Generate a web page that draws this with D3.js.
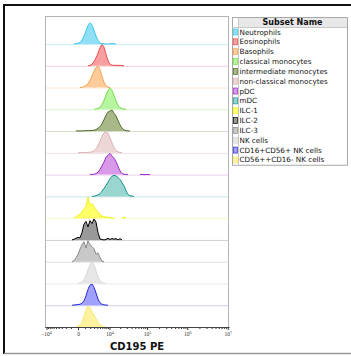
<!DOCTYPE html>
<html>
<head>
<meta charset="utf-8">
<script src="https://cdn.jsdelivr.net/npm/d3@7"></script>
<style>
  body { margin: 0; background: #fff; }
  svg { display: block; }
</style>
</head>
<body>
<svg id="chart" width="351" height="356"></svg>
<script>
// CD195 PE values at which the histogram heights were read
const binValues = [-1150, -810, -510, -240, 0, 240, 510, 810, 1150, 1530,
    1960, 2440, 2970, 3570, 4240, 4990, 5830, 6780, 7840, 9020,
    10350, 11840, 13510, 15380, 17470, 19820, 22440, 25400, 28700, 32400,
    36540, 41180, 46380, 52240, 58760, 66080, 74280, 83460, 93800, 105300, 118200];

const subsetNames = ["Neutrophils", "Eosinophils", "Basophils", "classical monocytes",
    "intermediate monocytes", "non-classical monocytes", "pDC", "mDC",
    "ILC-1", "ILC-2", "ILC-3", "NK cells", "CD16+CD56+ NK cells", "CD56++CD16- NK cells"];

// normalised counts (mode = 1), one value per bin
const neutrophils   = [0,0,0,.01,.03,.08,.2,.38,.62,.88, 1,.9,.65,.38,.17,.06,.02,.01,0,0, .01,.02,.01,0,0,0,0,0,0,0, 0,0,0,0,0,0,0,0,0,0,0];
const eosinophils   = [0,0,0,0,0,0,0,0,0,0, .02,.08,.2,.38,.6,.85,1,.88,.55,.25, .08,.03,.02,.02,.02,.02,.01,0,0,0, 0,0,0,0,0,0,0,0,0,0,0];
const basophils     = [0,0,0,0,0,0,.01,.04,.1,.2, .35,.55,.78,.95,1,.85,.55,.25,.08,.02, 0,0,0,0,0,0,0,0,0,0, 0,0,0,0,0,0,0,0,0,0,0];
const classicalMono = [0,0,0,0,0,0,0,0,0,0, 0,0,0,.01,.04,.1,.22,.42,.68,.9, 1,.9,.66,.4,.2,.08,.03,.01,0,0, 0,0,0,0,0,0,0,0,0,0,0];
const intermedMono  = [0,0,0,0,.01,.01,.01,.01,.02,.02, .02,.03,.04,.07,.13,.22,.35,.55,.75,.9, .95,1,.85,.72,.5,.3,.15,.06,.02,.01, 0,0,0,0,0,0,0,0,0,0,0];
const nonClassMono  = [0,0,0,0,0,.01,.01,.01,.01,.02, .03,.05,.1,.2,.35,.55,.78,.95,1,.92, .72,.48,.26,.12,.05,.02,0,0,0,0, 0,0,0,0,0,0,0,0,0,0,0];
const pDC           = [0,0,0,0,0,0,0,0,0,0, 0,.01,.02,.05,.12,.25,.42,.6,.82,.92, 1,.88,.78,.62,.4,.18,.06,.02,.01,0, 0,0,0,0,0,0,.01,0,0,.01,0];
const mDC           = [0,0,0,0,0,0,0,0,0,0, 0,0,.01,.03,.07,.14,.25,.38,.52,.68, .85,.95,1,.97,.9,.8,.65,.5,.28,.1, .03,.01,0,0,0,0,0,0,0,0,0];
const ilc1          = [0,0,0,.05,.14,.2,.3,.45,.55,1, .62,.7,.55,.4,.3,.15,.1,.08,.05,.03, .02,.01,0,0,0,0,0,.06,0,0, 0,0,0,0,0,0,0,0,0,0,0];
const ilc2          = [0,0,.03,.08,.12,.1,.35,.75,.88,.62, .92,.78,1,.85,.35,.05,.02,0,.02,.08, .02,.07,.03,.07,0,.06,0,0,0,0, 0,0,0,0,0,0,0,0,0,0,0];
const ilc3          = [0,0,.05,.18,.35,.6,.8,.95,.65,1, .8,.72,.62,.35,.42,.2,.02,0,0,0, 0,0,0,0,0,0,0,0,0,0, 0,0,0,0,0,0,0,0,0,0,0];
const nkCells       = [0,0,0,0,0,.02,.06,.18,.38,.65, .9,1,.88,.6,.32,.12,.04,.01,0,0, 0,0,0,0,0,0,0,0,0,0, 0,0,0,0,0,0,0,0,0,0,0];
const nkCD16CD56    = [0,0,.01,.02,.03,.05,.1,.22,.45,.75, .95,1,.85,.58,.3,.12,.05,.02,.01,0, 0,0,0,0,0,0,0,0,0,0, 0,0,0,0,0,0,0,0,0,0,0];
const nkCD56bright  = [0,0,0,0,.03,.1,.25,.5,.8,1, .92,.72,.55,.4,.22,.1,.04,.01,0,0, 0,0,0,0,0,0,0,0,0,0, 0,0,0,0,0,0,0,0,0,0,0];

const histograms = [neutrophils, eosinophils, basophils, classicalMono, intermedMono, nonClassMono,
    pDC, mDC, ilc1, ilc2, ilc3, nkCells, nkCD16CD56, nkCD56bright];
const jagged = ["ILC-1", "ILC-2", "ILC-3"];

const fillColors = ["#8fe0f5", "#f8a0a0", "#ffcc99", "#b8f5a0", "#a8b888", "#ecd6d6", "#d89ae8",
    "#99d6d0", "#ffff66", "#999999", "#c8c8c8", "#e6e6e6", "#a0a0ff", "#fff3a0"];
const lineColors = ["#38c8ec", "#e84848", "#f5a050", "#70e040", "#4e6b28", "#d8b4b4", "#9a28c8",
    "#159090", "#f0f020", "#000000", "#888888", "#d6d6d6", "#2828d8", "#f8e870"];
const baseColors = ["#c8eef8", "#f5d0d5", "#fbe5d5", "#d8f5cc", "#d8dccc", "#efe0e4", "#ecd0f0",
    "#c8e6ea", "#fafac8", "#d0d0d0", "#e0e0e0", "#e8e8e8", "#ccccf0", "#444444"];

const majorTicks = [-1e4, 0, 1e4, 1e5, 1e6, 1e7];
const tickLabels = [["-10", "4"], ["0", ""], ["10", "4"], ["10", "5"], ["10", "6"], ["10", "7"]];

const svg = d3.select("#chart");

// outer frame
svg.append("line").attr("x1", 3).attr("x2", 351).attr("y1", 5).attr("y2", 5)
    .attr("stroke", "#111").attr("stroke-width", 2);
svg.append("line").attr("x1", 4).attr("x2", 4).attr("y1", 4).attr("y2", 354)
    .attr("stroke", "#111").attr("stroke-width", 2);
svg.append("line").attr("x1", 4).attr("x2", 351).attr("y1", 353.5).attr("y2", 353.5)
    .attr("stroke", "#999").attr("stroke-width", 1.5);

const plot = { left: 45, right: 229, top: 16, bottom: 327 };

const x = d3.scaleSymlog()
    .constant(2000)
    .domain([-11080, 1.0764e7])
    .range([plot.left, plot.right]);

const rowBase = d3.scaleLinear()
    .domain([0, histograms.length - 1])
    .range([44, plot.bottom]);

const h = d3.scaleLinear().domain([0, 1]).range([0, 21]);

// plot frame
svg.append("rect")
    .attr("x", plot.left + 0.5).attr("y", plot.top + 0.5)
    .attr("width", plot.right - plot.left - 1).attr("height", plot.bottom - plot.top)
    .attr("fill", "none").attr("stroke", "#b4b4b4");

// baselines
svg.append("g").selectAll("line")
    .data(histograms.slice(0, -1))
    .join("line")
    .attr("x1", plot.left + 1).attr("x2", plot.right - 1)
    .attr("y1", (d, i) => rowBase(i) + 0.5).attr("y2", (d, i) => rowBase(i) + 0.5)
    .attr("stroke", (d, i) => baseColors[i]);

// histograms
histograms.forEach((counts, i) => {
    const base = rowBase(i);
    const curve = jagged.includes(subsetNames[i]) ? d3.curveLinear : d3.curveMonotoneX;
    const pts = counts.map((c, j) => ({ v: binValues[j], c: c, j: j }));
    const on = d => d.c > 0 || (counts[d.j - 1] || 0) > 0 || (counts[d.j + 1] || 0) > 0;

    const area = d3.area()
        .defined(on)
        .x(d => x(d.v))
        .y0(base)
        .y1(d => base - h(d.c))
        .curve(curve);
    const line = d3.line()
        .defined(on)
        .x(d => x(d.v))
        .y(d => base - h(d.c))
        .curve(curve);

    const g = svg.append("g");
    g.append("path").attr("d", area(pts)).attr("fill", fillColors[i]);
    g.append("path").attr("d", line(pts)).attr("fill", "none")
        .attr("stroke", lineColors[i]).attr("stroke-width", 1)
        .attr("stroke-linejoin", "round");
});

// x axis
const minorTicks = [].concat(
    d3.range(-9000, 0, 1000),
    d3.range(1000, 10000, 1000),
    d3.range(2e4, 1e5, 1e4),
    d3.range(2e5, 1e6, 1e5),
    d3.range(2e6, 1e7, 1e6));

const minorAxis = svg.append("g")
    .attr("transform", `translate(0,${plot.bottom})`)
    .call(d3.axisBottom(x).tickValues(minorTicks).tickSize(2).tickFormat(""));
minorAxis.select(".domain").remove();
minorAxis.selectAll(".tick line").attr("stroke", "#333");

const axis = svg.append("g")
    .attr("transform", `translate(0,${plot.bottom})`)
    .call(d3.axisBottom(x).tickValues(majorTicks).tickSize(3).tickSizeOuter(0).tickFormat(""));
axis.select(".domain").attr("stroke", "#444");
axis.selectAll(".tick line").attr("stroke", "#333");
axis.selectAll(".tick").each(function(d, i) {
    const t = d3.select(this).append("text")
        .attr("y", 9)
        .attr("fill", "#333")
        .attr("text-anchor", "middle")
        .style("font-family", "'Liberation Serif', serif")
        .style("font-size", "5.5px");
    t.append("tspan").text(tickLabels[i][0]);
    if (tickLabels[i][1]) {
        t.append("tspan").attr("dy", -2.5).style("font-size", "4px").text(tickLabels[i][1]);
    }
});

svg.append("text")
    .attr("x", 137).attr("y", 350)
    .attr("text-anchor", "middle")
    .style("font-family", "'DejaVu Sans', Verdana, sans-serif")
    .style("font-weight", "bold")
    .style("font-size", "10px")
    .attr("fill", "#111")
    .text("CD195 PE");

// legend table
const legend = { left: 232, right: 347, top: 17, header: 10, row: 9.84, swatch: 6 };
const lg = svg.append("g");
const rowY = d3.scaleLinear()
    .domain([0, subsetNames.length])
    .range([legend.top + legend.header, legend.top + legend.header + legend.row * subsetNames.length]);

lg.append("rect")
    .attr("x", legend.left + legend.swatch).attr("y", legend.top)
    .attr("width", legend.right - legend.left - legend.swatch).attr("height", legend.header)
    .attr("fill", "#e8e8e8");
lg.append("rect")
    .attr("x", legend.left + 0.5).attr("y", legend.top + 0.5)
    .attr("width", legend.right - legend.left).attr("height", rowY(subsetNames.length) - legend.top)
    .attr("fill", "none").attr("stroke", "#a8a8a8");
lg.append("line")
    .attr("x1", legend.left + legend.swatch + 0.5).attr("x2", legend.left + legend.swatch + 0.5)
    .attr("y1", legend.top).attr("y2", rowY(subsetNames.length))
    .attr("stroke", "#c8c8c8");
lg.append("line")
    .attr("x1", legend.left).attr("x2", legend.right)
    .attr("y1", legend.top + legend.header + 0.5).attr("y2", legend.top + legend.header + 0.5)
    .attr("stroke", "#c8c8c8");
lg.append("text")
    .attr("x", (legend.left + legend.swatch + legend.right) / 2)
    .attr("y", legend.top + 7.8)
    .attr("text-anchor", "middle")
    .style("font-family", "'DejaVu Sans', Verdana, sans-serif")
    .style("font-weight", "bold")
    .style("font-size", "8px")
    .attr("fill", "#111")
    .text("Subset Name");

lg.selectAll("rect.sw")
    .data(subsetNames)
    .join("rect")
    .attr("class", "sw")
    .attr("x", legend.left + 1.5)
    .attr("y", (d, i) => rowY(i) + 2)
    .attr("width", 4).attr("height", 6)
    .attr("fill", (d, i) => fillColors[i])
    .attr("stroke", (d, i) => lineColors[i])
    .attr("stroke-width", 0.7);

lg.selectAll("text.nm")
    .data(subsetNames)
    .join("text")
    .attr("class", "nm")
    .attr("x", legend.left + legend.swatch + 1.5)
    .attr("y", (d, i) => rowY(i) + 7.5)
    .style("font-family", "'DejaVu Sans', Verdana, sans-serif")
    .style("font-size", "7.2px")
    .attr("fill", "#111")
    .text(d => d);
</script>
</body>
</html>
